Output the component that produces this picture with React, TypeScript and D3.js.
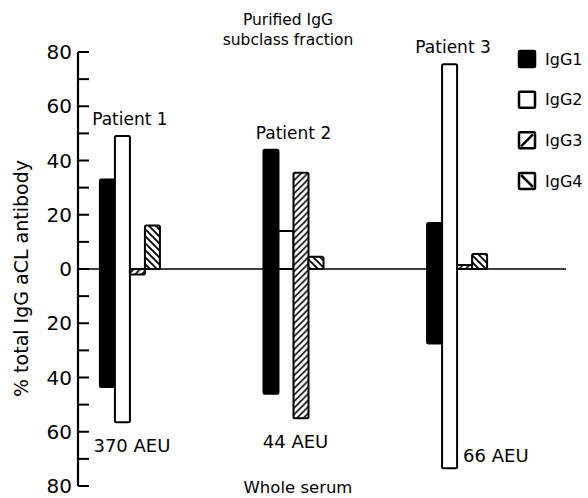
import React from "react";
import * as d3 from "d3";

const patients = ["Patient 1", "Patient 2", "Patient 3"];
const subclasses = ["IgG1", "IgG2", "IgG3", "IgG4"];
// purified IgG subclass fraction (plotted upward)
const purifiedIgG1 = [33, 44, 17];
const purifiedIgG2 = [49, 14, 75.5];
const purifiedIgG3 = [0, 35.5, 1.5];
const purifiedIgG4 = [16, 4.5, 5.5];
// whole serum (plotted downward)
const serumIgG1 = [43.5, 46, 27.5];
const serumIgG2 = [56.5, 0, 73.5];
const serumIgG3 = [2, 55, 0];
const serumIgG4 = [0, 0, 0];
const aeuLabels = ["370 AEU", "44 AEU", "66 AEU"];
const yTicks = [-80, -70, -60, -50, -40, -30, -20, -10, 0, 10, 20, 30, 40, 50, 60, 70, 80];

const purified: Record<string, number[]> = {
  IgG1: purifiedIgG1,
  IgG2: purifiedIgG2,
  IgG3: purifiedIgG3,
  IgG4: purifiedIgG4,
};
const serum: Record<string, number[]> = {
  IgG1: serumIgG1,
  IgG2: serumIgG2,
  IgG3: serumIgG3,
  IgG4: serumIgG4,
};
const fills: Record<string, string> = {
  IgG1: "#000",
  IgG2: "#fff",
  IgG3: "url(#h3)",
  IgG4: "url(#h4)",
};

const W = 588;
const H = 498;
const FONT = "'DejaVu Sans', sans-serif";

export default function App() {
  const y = d3.scaleLinear().domain([-80, 80]).range([486, 52]);
  const x = d3
    .scaleBand<string>()
    .domain(patients)
    .range([77, 510])
    .paddingInner(0.633)
    .paddingOuter(0.14);
  const xs = d3.scaleBand<string>().domain(subclasses).range([0, x.bandwidth()]);
  const legendY = d3.scalePoint<string>().domain(subclasses).range([59, 181]);
  const axisX = 78;

  return (
    <svg
      width={W}
      height={H}
      style={{ position: "absolute", left: 0, top: 0, background: "#fff" }}
      fontFamily={FONT}
    >
      <defs>
        <pattern id="h3" patternUnits="userSpaceOnUse" width={6.5} height={6.5}>
          <rect width={6.5} height={6.5} fill="#fff" />
          <path d="M-1,1 L1,-1 M0,6.5 L6.5,0 M5.5,7.5 L7.5,5.5" stroke="#000" strokeWidth={1.5} />
        </pattern>
        <pattern id="h4" patternUnits="userSpaceOnUse" width={7} height={7}>
          <rect width={7} height={7} fill="#fff" />
          <path d="M-1,6 L1,8 M0,0 L7,7 M6,-1 L8,1" stroke="#000" strokeWidth={1.8} />
        </pattern>
      </defs>

      {/* titles */}
      <text x={288} y={25} textAnchor="middle" fontSize={15.5}>
        Purified IgG
      </text>
      <text x={288} y={45} textAnchor="middle" fontSize={15.5}>
        subclass fraction
      </text>
      <text x={298} y={493} textAnchor="middle" fontSize={16.5}>
        Whole serum
      </text>
      <text
        transform={`translate(28,${(152 + 405) / 2}) rotate(-90)`}
        textAnchor="middle"
        fontSize={19}
      >
        % total IgG aCL antibody
      </text>

      {/* zero line */}
      <line x1={axisX} x2={566} y1={y(0)} y2={y(0)} stroke="#000" strokeWidth={1.5} />

      {/* y axis */}
      <line x1={axisX} x2={axisX} y1={y(80)} y2={y(-80)} stroke="#000" strokeWidth={2.2} />
      {yTicks.map((t) => (
        <g key={t}>
          <line x1={axisX} x2={axisX + 11} y1={y(t)} y2={y(t)} stroke="#000" strokeWidth={2} />
          {t % 20 === 0 && (
            <text x={72} y={y(t)} dy="0.36em" textAnchor="end" fontSize={20}>
              {Math.abs(t)}
            </text>
          )}
        </g>
      ))}

      {/* bars */}
      {patients.map((p, i) => (
        <g key={p}>
          {subclasses.map((s) => {
            const top = y(purified[s][i]);
            const bottom = y(-serum[s][i]);
            return (
              <rect
                key={s}
                x={(x(p) as number) + (xs(s) as number)}
                y={top}
                width={xs.bandwidth()}
                height={Math.max(0, bottom - top)}
                fill={fills[s]}
                stroke="#000"
                strokeWidth={2}
                rx={1.5}
              />
            );
          })}
        </g>
      ))}

      {/* patient labels */}
      {patients.map((p, i) => {
        const maxV = d3.max(subclasses, (s) => purified[s][i]) as number;
        return (
          <text
            key={p}
            x={(x(p) as number) + x.bandwidth() / 2 - (i === 2 ? 4 : 0)}
            y={y(maxV) - 11}
            textAnchor="middle"
            fontSize={17}
          >
            {p}
          </text>
        );
      })}

      {/* AEU labels */}
      {patients.map((p, i) => {
        const minV = d3.max(subclasses, (s) => serum[s][i]) as number;
        if (i === 2) {
          return (
            <text
              key={p}
              x={(x(p) as number) + (xs("IgG2") as number) + xs.bandwidth() + 6}
              y={y(-minV) - 6}
              fontSize={18}
            >
              {aeuLabels[i]}
            </text>
          );
        }
        return (
          <text
            key={p}
            x={(x(p) as number) + x.bandwidth() / 2 + 2}
            y={y(-minV) + 30}
            textAnchor="middle"
            fontSize={18}
          >
            {aeuLabels[i]}
          </text>
        );
      })}

      {/* legend */}
      {subclasses.map((s) => {
        const cy = legendY(s) as number;
        const x0 = 519;
        const sz = 16;
        return (
          <g key={s}>
            <rect
              x={x0}
              y={cy - sz / 2}
              width={sz}
              height={sz}
              fill={s === "IgG1" ? "#000" : "#fff"}
              stroke="#000"
              strokeWidth={2.5}
              rx={1}
            />
            {s === "IgG3" && (
              <line
                x1={x0 + 2}
                y1={cy + sz / 2 - 2}
                x2={x0 + sz - 2}
                y2={cy - sz / 2 + 2}
                stroke="#000"
                strokeWidth={2.5}
              />
            )}
            {s === "IgG4" && (
              <line
                x1={x0 + 2}
                y1={cy - sz / 2 + 2}
                x2={x0 + sz - 2}
                y2={cy + sz / 2 - 2}
                stroke="#000"
                strokeWidth={2.5}
              />
            )}
            <text x={545} y={cy} dy="0.36em" fontSize={16}>
              {s}
            </text>
          </g>
        );
      })}
    </svg>
  );
}
